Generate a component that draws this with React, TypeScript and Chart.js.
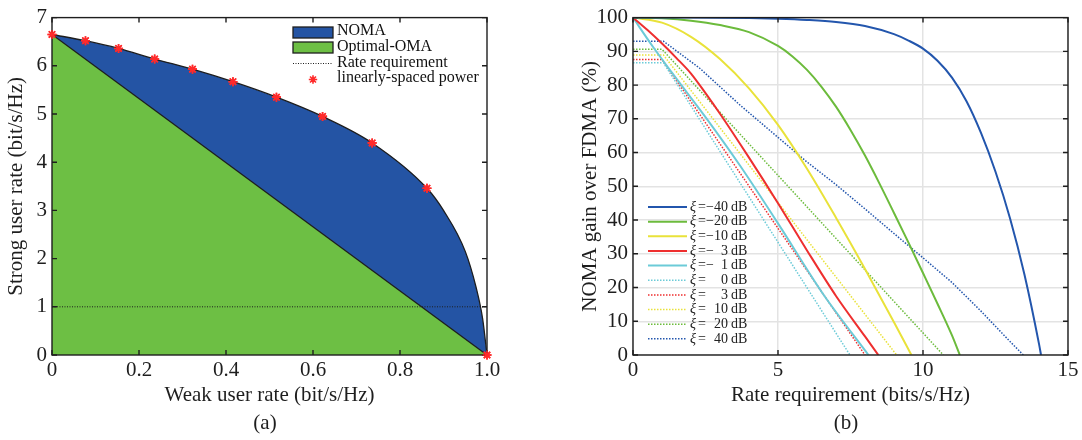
import React, { useEffect, useRef } from "react";
import { Chart, registerables } from "chart.js";

Chart.register(...registerables);

const SERIF = '"Liberation Serif", "Times New Roman", serif';
const INK = "#1e1e1e";

// ---------------- (a) rate region ----------------
const nomaWeak = [0, 0.077, 0.153, 0.236, 0.323, 0.416, 0.516, 0.622, 0.736, 0.862, 0.9, 0.95, 0.975, 0.99, 1.0];
const nomaStrong = [6.65, 6.52, 6.36, 6.14, 5.93, 5.67, 5.35, 4.95, 4.4, 3.46, 3.0, 2.15, 1.4, 0.75, 0];
const omaWeak = [0, 1];
const omaStrong = [6.65, 0];
const starWeak = [0, 0.077, 0.153, 0.236, 0.323, 0.416, 0.516, 0.622, 0.736, 0.862, 1.0];
const starStrong = [6.65, 6.52, 6.36, 6.14, 5.93, 5.67, 5.35, 4.95, 4.4, 3.46, 0];
const rateReqWeak = [0, 1];
const rateReqStrong = [1, 1];
const xTickLabelsA = ["0", "0.2", "0.4", "0.6", "0.8", "1.0"];
const yTickLabelsA = ["0", "1", "2", "3", "4", "5", "6", "7"];
const legendLabelsA = ["NOMA", "Optimal-OMA", "Rate requirement", "linearly-spaced power"];

// ---------------- (b) NOMA gain ----------------
const xiValues = [-40, -20, -10, -3, -1, 0, 3, 10, 20, 40];
const xM40 = [0, 2, 4, 5, 6, 7, 8, 9, 9.5, 10, 10.5, 11, 11.5, 12, 12.5, 13, 13.5, 14, 14.07];
const yM40 = [100, 100, 99.85, 99.65, 99.3, 98.7, 97.5, 95.1, 93.2, 90.8, 87.2, 82.2, 75.2, 65.8, 54.3, 40.55, 23.8, 3.3, 0];
const xM20 = [0, 1, 2, 3, 4, 5, 5.5, 6, 6.5, 7, 7.5, 8, 8.5, 9, 9.5, 10, 10.5, 11, 11.27];
const yM20 = [100, 99.8, 99.1, 97.8, 95.7, 91.6, 88.5, 84.5, 79.5, 73.6, 66.7, 59.1, 50.8, 42.1, 33.3, 24.3, 15.2, 5.8, 0];
const xM10 = [0, 1, 2, 3, 4, 5, 6, 7, 8, 9, 9.6];
const yM10 = [100, 98.5, 94.3, 87.7, 79, 68.2, 55.2, 40.7, 25.5, 9.7, 0];
const xM3 = [0, 0.5, 1, 1.5, 2, 2.5, 3, 4, 5, 6, 7, 8, 8.46];
const yM3 = [100, 96.3, 92.3, 88, 83.4, 77.6, 71.5, 58.5, 45, 31, 17.5, 5.5, 0];
const xM1 = [0, 0.7, 1.4, 2.5, 3.7, 5, 6.56, 8.12];
const yM1 = [100, 91.2, 83, 70.5, 56, 39, 18, 0];
const xP0 = [0, 1.05, 7.48];
const yP0 = [86.6, 86.6, 0];
const xP3 = [0, 1.0, 8.0];
const yP3 = [87.6, 87.6, 0];
const xP10 = [0, 1.05, 9.09];
const yP10 = [88.9, 88.9, 0];
const xP20 = [0, 1.0, 10.7];
const yP20 = [90.6, 90.6, 0];
const xP40 = [0, 1.05, 2.3, 3.7, 5, 6, 7, 8, 9, 10, 11, 12, 13, 13.46];
const yP40 = [93, 93, 85, 74, 64.5, 57.2, 50.5, 43.3, 36, 28.8, 21.5, 13, 4, 0];
const xTickLabelsB = ["0", "5", "10", "15"];
const yTickLabelsB = ["0", "10", "20", "30", "40", "50", "60", "70", "80", "90", "100"];

const C_BLUE = "#2356ad";
const C_GREEN = "#6cbb3c";
const C_YELLOW = "#e9e23a";
const C_RED = "#ee2f2f";
const C_CYAN = "#6ccbd8";
const FILL_BLUE = "#2454a4";
const FILL_GREEN = "#6dbf44";

const seriesB = [
  { xi: xiValues[0], xs: xM40, ys: yM40, color: C_BLUE, dotted: false },
  { xi: xiValues[1], xs: xM20, ys: yM20, color: C_GREEN, dotted: false },
  { xi: xiValues[2], xs: xM10, ys: yM10, color: C_YELLOW, dotted: false },
  { xi: xiValues[3], xs: xM3, ys: yM3, color: C_RED, dotted: false },
  { xi: xiValues[4], xs: xM1, ys: yM1, color: C_CYAN, dotted: false },
  { xi: xiValues[5], xs: xP0, ys: yP0, color: C_CYAN, dotted: true },
  { xi: xiValues[6], xs: xP3, ys: yP3, color: C_RED, dotted: true },
  { xi: xiValues[7], xs: xP10, ys: yP10, color: C_YELLOW, dotted: true },
  { xi: xiValues[8], xs: xP20, ys: yP20, color: C_GREEN, dotted: true },
  { xi: xiValues[9], xs: xP40, ys: yP40, color: C_BLUE, dotted: true },
];

const pts = (xs: number[], ys: number[]) => xs.map((x, i) => ({ x, y: ys[i] }));

function drawStar(ctx: CanvasRenderingContext2D, x: number, y: number, r: number) {
  ctx.beginPath();
  for (let k = 0; k < 4; k++) {
    const a = (k * Math.PI) / 4;
    ctx.moveTo(x - r * Math.cos(a), y - r * Math.sin(a));
    ctx.lineTo(x + r * Math.cos(a), y + r * Math.sin(a));
  }
  ctx.stroke();
}

function framePlugin(redrawIndex?: number) {
  return {
    id: "frame",
    afterDatasetsDraw(chart: any) {
      const { ctx, chartArea } = chart;
      const { left, right, top, bottom } = chartArea;
      const xs = chart.scales.x;
      const ys = chart.scales.y;
      const tl = 5;
      ctx.save();
      ctx.strokeStyle = INK;
      ctx.lineWidth = 1.4;
      ctx.setLineDash([]);
      ctx.beginPath();
      for (const t of xs.ticks) {
        const p = xs.getPixelForValue(t.value);
        ctx.moveTo(p, bottom);
        ctx.lineTo(p, bottom - tl);
        ctx.moveTo(p, top);
        ctx.lineTo(p, top + tl);
      }
      for (const t of ys.ticks) {
        const p = ys.getPixelForValue(t.value);
        ctx.moveTo(left, p);
        ctx.lineTo(left + tl, p);
        ctx.moveTo(right, p);
        ctx.lineTo(right - tl, p);
      }
      ctx.stroke();
      ctx.strokeRect(left, top, right - left, bottom - top);
      ctx.restore();
      if (redrawIndex !== undefined) {
        chart.getDatasetMeta(redrawIndex).controller.draw();
      }
    },
  };
}

const legendPluginA = {
  id: "legendA",
  afterDraw(chart: any) {
    const ctx: CanvasRenderingContext2D = chart.ctx;
    ctx.save();
    ctx.lineWidth = 1.3;
    ctx.strokeStyle = INK;
    ctx.fillStyle = FILL_BLUE;
    ctx.fillRect(293, 27, 40, 11);
    ctx.strokeRect(293, 27, 40, 11);
    ctx.fillStyle = FILL_GREEN;
    ctx.fillRect(293, 42, 40, 11);
    ctx.strokeRect(293, 42, 40, 11);
    ctx.setLineDash([1, 1.5]);
    ctx.lineWidth = 1;
    ctx.beginPath();
    ctx.moveTo(293, 63.5);
    ctx.lineTo(333, 63.5);
    ctx.stroke();
    ctx.setLineDash([]);
    ctx.strokeStyle = "#ff2a2a";
    ctx.lineWidth = 1.6;
    drawStar(ctx, 313, 79.5, 4.2);
    ctx.fillStyle = "#111";
    ctx.font = `16px ${SERIF}`;
    ctx.textBaseline = "middle";
    ctx.textAlign = "left";
    const rows = [31, 47, 63, 78];
    legendLabelsA.forEach((s, i) => ctx.fillText(s, 337, rows[i]));
    ctx.restore();
  },
};

const legendPluginB = {
  id: "legendB",
  afterDraw(chart: any) {
    const ctx: CanvasRenderingContext2D = chart.ctx;
    ctx.save();
    seriesB.forEach((s, i) => {
      const y = 207 + i * 14.65;
      ctx.strokeStyle = s.color;
      ctx.lineWidth = s.dotted ? 1.5 : 2;
      ctx.setLineDash(s.dotted ? [1.5, 1.5] : []);
      ctx.beginPath();
      ctx.moveTo(108, y);
      ctx.lineTo(147, y);
      ctx.stroke();
      ctx.setLineDash([]);
      ctx.fillStyle = "#222";
      ctx.textBaseline = "middle";
      ctx.font = `italic 14px ${SERIF}`;
      ctx.textAlign = "left";
      ctx.fillText("ξ", 150, y);
      ctx.font = `14px ${SERIF}`;
      ctx.fillText("=", 158, y);
      if (s.xi < 0) ctx.fillText("\u2212", 166, y);
      ctx.textAlign = "right";
      ctx.fillText(String(Math.abs(s.xi)), 188, y);
      ctx.textAlign = "left";
      ctx.fillText("dB", 191, y);
    });
    ctx.restore();
  },
};

const tickFont = { family: SERIF, size: 21 };
const titleFont = { family: SERIF, size: 21 };

function ChartA() {
  const ref = useRef<HTMLCanvasElement | null>(null);
  useEffect(() => {
    if (!ref.current) return;
    const chart = new Chart(ref.current, {
      type: "line",
      data: {
        datasets: [
          {
            label: legendLabelsA[0],
            data: pts(nomaWeak, nomaStrong),
            borderColor: INK,
            borderWidth: 1.3,
            backgroundColor: FILL_BLUE,
            fill: "origin",
            pointRadius: 0,
            cubicInterpolationMode: "monotone",
            order: 4,
          },
          {
            label: legendLabelsA[1],
            data: pts(omaWeak, omaStrong),
            borderColor: INK,
            borderWidth: 1.3,
            backgroundColor: FILL_GREEN,
            fill: "origin",
            pointRadius: 0,
            order: 3,
          },
          {
            label: legendLabelsA[2],
            data: pts(rateReqWeak, rateReqStrong),
            borderColor: INK,
            borderWidth: 1,
            borderDash: [1, 1.5],
            fill: false,
            pointRadius: 0,
            order: 2,
          },
          {
            label: legendLabelsA[3],
            data: pts(starWeak, starStrong),
            showLine: false,
            pointStyle: "star",
            pointRadius: 4.5,
            pointBorderWidth: 1.6,
            pointBorderColor: "#ff2a2a",
            pointBackgroundColor: "#ff2a2a",
            clip: false,
            order: 1,
          } as any,
        ],
      },
      options: {
        animation: false,
        responsive: false,
        events: [],
        layout: { padding: { left: 0, top: 12, right: 43, bottom: 0 } },
        plugins: { legend: { display: false }, tooltip: { enabled: false } },
        scales: {
          x: {
            type: "linear",
            min: 0,
            max: 1,
            afterFit: (s: any) => {
              s.height = 65;
            },
            grid: { display: false, drawTicks: false },
            border: { display: false },
            ticks: {
              stepSize: 0.2,
              padding: 3,
              autoSkip: false,
              maxRotation: 0,
              color: INK,
              font: tickFont,
              callback: (_v: any, i: number) => xTickLabelsA[i],
            },
            title: {
              display: true,
              text: "Weak user rate (bit/s/Hz)",
              color: INK,
              font: titleFont,
              padding: { top: 0, bottom: 12 },
            },
          },
          y: {
            type: "linear",
            min: 0,
            max: 7,
            afterFit: (s: any) => {
              s.width = 52;
            },
            grid: { display: false, drawTicks: false },
            border: { display: false },
            ticks: {
              stepSize: 1,
              padding: 5,
              autoSkip: false,
              color: INK,
              font: tickFont,
              callback: (_v: any, i: number) => yTickLabelsA[i],
            },
            title: {
              display: true,
              text: "Strong user rate (bit/s/Hz)",
              color: INK,
              font: titleFont,
              padding: { top: 4, bottom: 0 },
            },
          },
        },
      } as any,
      plugins: [framePlugin(3), legendPluginA],
    });
    return () => chart.destroy();
  }, []);
  return (
    <canvas
      ref={ref}
      width={530}
      height={420}
      style={{ position: "absolute", left: 0, top: 0, width: 530, height: 420 }}
    />
  );
}

function ChartB() {
  const ref = useRef<HTMLCanvasElement | null>(null);
  useEffect(() => {
    if (!ref.current) return;
    const chart = new Chart(ref.current, {
      type: "line",
      data: {
        datasets: seriesB.map((s) => ({
          label: `ξ = ${s.xi} dB`,
          data: pts(s.xs, s.ys),
          borderColor: s.color,
          borderWidth: s.dotted ? 1.5 : 2,
          borderDash: s.dotted ? [1.5, 1.5] : [],
          fill: false,
          pointRadius: 0,
          cubicInterpolationMode: s.dotted ? "default" : "monotone",
          tension: 0,
        })) as any,
      },
      options: {
        animation: false,
        responsive: false,
        events: [],
        layout: { padding: { left: 0, top: 12, right: 14, bottom: 0 } },
        plugins: { legend: { display: false }, tooltip: { enabled: false } },
        scales: {
          x: {
            type: "linear",
            min: 0,
            max: 15,
            afterFit: (s: any) => {
              s.height = 65;
            },
            grid: { display: true, drawTicks: false, color: "#e3e3e3", lineWidth: 1.5 },
            border: { display: false },
            ticks: {
              stepSize: 5,
              padding: 3,
              autoSkip: false,
              maxRotation: 0,
              color: INK,
              font: tickFont,
              callback: (_v: any, i: number) => xTickLabelsB[i],
            },
            title: {
              display: true,
              text: "Rate requirement (bits/s/Hz)",
              color: INK,
              font: titleFont,
              padding: { top: 0, bottom: 12 },
            },
          },
          y: {
            type: "linear",
            min: 0,
            max: 100,
            afterFit: (s: any) => {
              s.width = 93;
            },
            grid: { display: true, drawTicks: false, color: "#e3e3e3", lineWidth: 1.5 },
            border: { display: false },
            ticks: {
              stepSize: 10,
              padding: 5,
              autoSkip: false,
              color: INK,
              font: tickFont,
              callback: (_v: any, i: number) => yTickLabelsB[i],
            },
            title: {
              display: true,
              text: "NOMA gain over FDMA (%)",
              color: INK,
              font: titleFont,
              padding: { top: 38, bottom: 0 },
            },
          },
        },
      } as any,
      plugins: [framePlugin(), legendPluginB],
    });
    return () => chart.destroy();
  }, []);
  return (
    <canvas
      ref={ref}
      width={542}
      height={420}
      style={{ position: "absolute", left: 540, top: 0, width: 542, height: 420 }}
    />
  );
}

const captionStyle: React.CSSProperties = {
  position: "absolute",
  top: 409,
  width: 60,
  textAlign: "center",
  fontFamily: SERIF,
  fontSize: 21,
  lineHeight: "26px",
  color: INK,
};

export default function App() {
  return (
    <div
      style={{
        position: "absolute",
        left: 0,
        top: 0,
        width: 1082,
        height: 440,
        background: "#fff",
        overflow: "hidden",
      }}
    >
      <ChartA />
      <ChartB />
      <div style={{ ...captionStyle, left: 235 }}>(a)</div>
      <div style={{ ...captionStyle, left: 816 }}>(b)</div>
    </div>
  );
}
